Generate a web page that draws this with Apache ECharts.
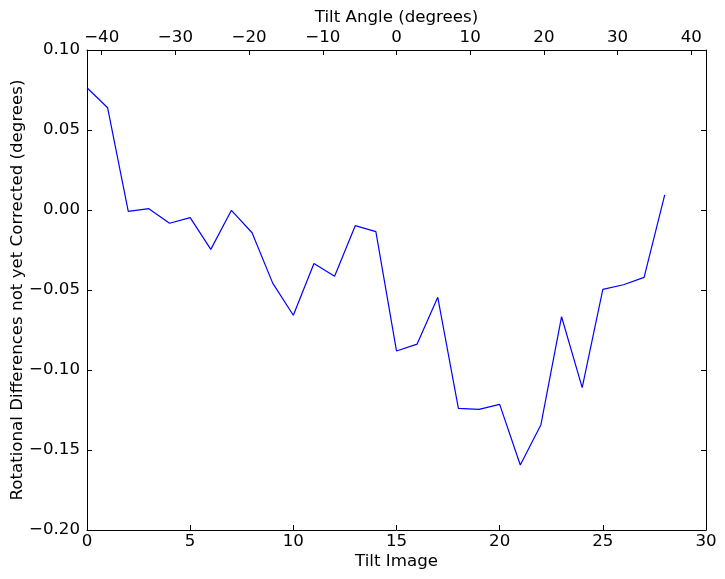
<!DOCTYPE html>
<html>
<head>
<meta charset="utf-8">
<script src="https://cdn.jsdelivr.net/npm/echarts@6/dist/echarts.min.js"></script>
<style>html,body{margin:0;padding:0;background:#fff}#c{width:725px;height:579px}</style>
</head>
<body>
<div id="c"></div>
<script>
var tiltImages = [0,1,2,3,4,5,6,7,8,9,10,11,12,13,14,15,16,17,18,19,20,21,22,23,24,25,26,27,28];
var rotDiff = [0.0764,0.0639,-0.0008,0.0008,-0.0083,-0.0048,-0.0246,-0.0002,-0.0142,-0.0457,-0.0658,
  -0.0334,-0.0414,-0.0098,-0.0135,-0.0881,-0.0838,-0.0546,-0.1240,-0.1246,-0.1215,-0.1594,-0.1342,
  -0.0667,-0.1110,-0.0496,-0.0467,-0.0421,0.0094];
var bottomTicks = [0,5,10,15,20,25,30];
var topTicks = [-40,-30,-20,-10,0,10,20,30,40];
var yTicks = [-0.20,-0.15,-0.10,-0.05,0.00,0.05,0.10];

var FONT = 'DejaVu Sans';
var FS = 16.67;
function minus(s){ return s.replace('-', '\u2212'); }
var chart = echarts.init(document.getElementById('c'), null, {renderer:'canvas'});
var axisLineStyle = {color:'#000', width:1};
chart.setOption({
  animation:false,
  backgroundColor:'#fff',
  grid:{left:87, right:19, top:50, bottom:49, containLabel:false, outerBoundsMode:'none'},
  xAxis:[{
    type:'value', position:'bottom', min:0, max:30, interval:5,
    name:'Tilt Image', nameLocation:'middle', nameGap:23, nameMoveOverlap:false,
    nameTextStyle:{fontFamily:FONT, fontSize:FS, color:'#000'},
    axisLine:{show:true, onZero:false, lineStyle:axisLineStyle},
    axisTick:{show:true, inside:true, length:5, lineStyle:{color:'#000'}},
    axisLabel:{fontFamily:FONT, fontSize:FS, color:'#000', margin:3,
      formatter:function(v){return minus(String(v));}},
    splitLine:{show:false}
  },{
    type:'value', position:'top', min:-42, max:42,
    name:'Tilt Angle (degrees)', nameLocation:'middle', nameGap:24, nameMoveOverlap:false,
    nameTextStyle:{fontFamily:FONT, fontSize:FS, color:'#000'},
    axisLine:{show:true, onZero:false, lineStyle:axisLineStyle},
    axisTick:{show:true, inside:true, length:5, customValues:topTicks, lineStyle:{color:'#000'}},
    axisLabel:{fontFamily:FONT, fontSize:FS, color:'#000', margin:4, customValues:topTicks,
      formatter:function(v){return minus(String(v));}},
    splitLine:{show:false}
  }],
  yAxis:[{
    type:'value', position:'left', min:-0.2, max:0.1, interval:0.05,
    name:'Rotational Differences not yet Corrected (degrees)', nameLocation:'middle', nameGap:61,
    nameMoveOverlap:false, nameRotate:90,
    nameTextStyle:{fontFamily:FONT, fontSize:FS, color:'#000'},
    axisLine:{show:true, onZero:false, lineStyle:axisLineStyle},
    axisTick:{show:true, inside:true, length:5, customValues:yTicks, lineStyle:{color:'#000'}},
    axisLabel:{fontFamily:FONT, fontSize:FS, color:'#000', margin:7, customValues:yTicks,
      formatter:function(v){return minus(v.toFixed(2));}},
    splitLine:{show:false}
  },{
    type:'value', position:'right', min:-0.2, max:0.1, interval:0.05,
    axisLine:{show:true, onZero:false, lineStyle:axisLineStyle},
    axisTick:{show:true, inside:true, length:5, customValues:yTicks, lineStyle:{color:'#000'}},
    axisLabel:{show:false},
    splitLine:{show:false}
  }],
  series:[{
    type:'line', xAxisIndex:0, yAxisIndex:0,
    data: tiltImages.map(function(x,i){return [x, rotDiff[i]];}),
    showSymbol:false, symbol:'none',
    lineStyle:{color:'#0000ff', width:1.2},
    z:3
  }]
});
</script>
</body>
</html>
